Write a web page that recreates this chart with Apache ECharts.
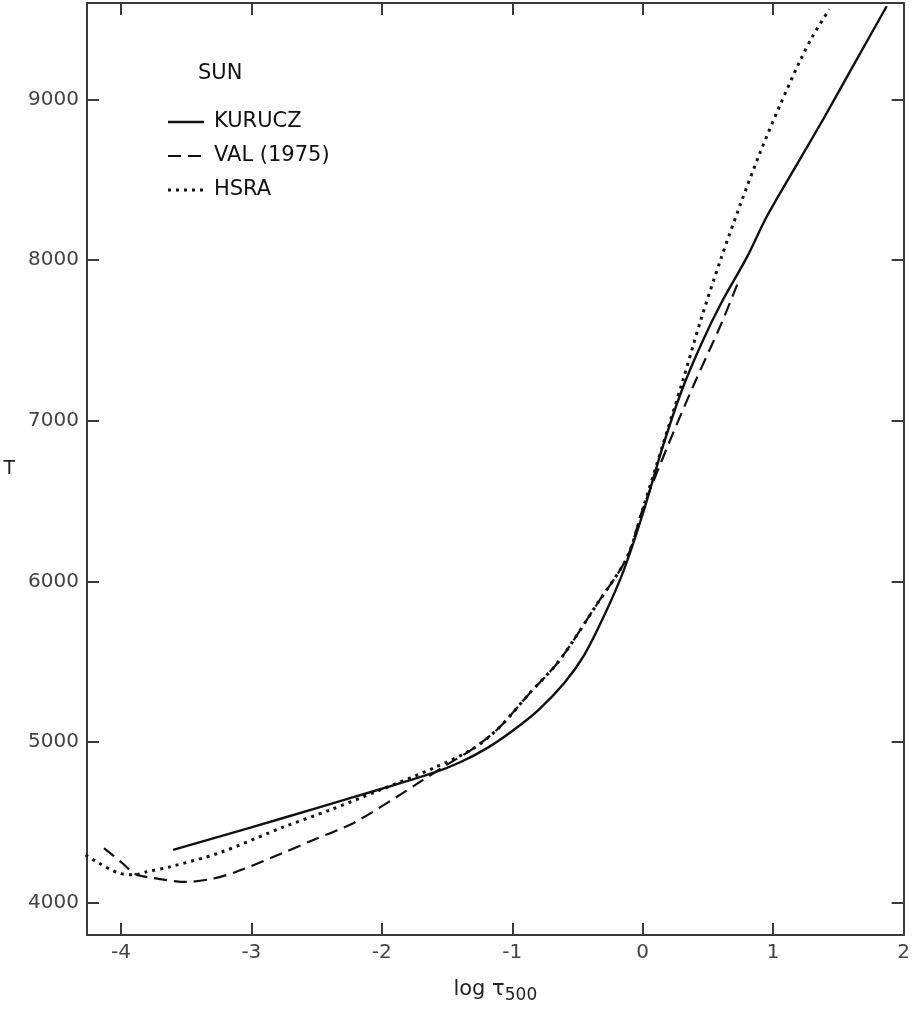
<!DOCTYPE html>
<html>
<head>
<meta charset="utf-8">
<script src="https://cdn.jsdelivr.net/npm/echarts@6/dist/echarts.min.js"></script>
<style>html,body{margin:0;padding:0;background:#fff}#c{width:913px;height:1012px}</style>
</head>
<body>
<div id="c"></div>
<script>
const xTicks = [-4, -3, -2, -1, 0, 1, 2];
const yTicks = [4000, 5000, 6000, 7000, 8000, 9000];

const kuruczX = [-3.6, -3.0, -2.5, -2.0, -1.6, -1.4, -1.2, -1.0, -0.8, -0.6, -0.45, -0.3, -0.15, 0.0, 0.15, 0.3, 0.45, 0.6, 0.8, 0.95, 1.2, 1.4, 1.6, 1.87];
const kuruczT = [4330, 4470, 4590, 4710, 4810, 4875, 4960, 5070, 5200, 5370, 5540, 5780, 6060, 6420, 6830, 7190, 7480, 7730, 8020, 8270, 8620, 8900, 9190, 9580];

const valX = [-4.13, -4.0, -3.89, -3.75, -3.5, -3.3, -3.12, -2.76, -2.53, -2.22, -1.89, -1.69, -1.5, -1.3, -1.1, -0.87, -0.64, -0.35, -0.12, 0.0, 0.2, 0.4, 0.6, 0.74];
const valT = [4341, 4255, 4180, 4155, 4130, 4150, 4192, 4310, 4390, 4496, 4657, 4762, 4860, 4960, 5091, 5302, 5507, 5860, 6150, 6450, 6860, 7240, 7600, 7880];

const hsraX = [-4.27, -4.17, -4.02, -3.89, -3.81, -3.63, -3.25, -2.76, -2.40, -2.02, -1.6, -1.3, -1.1, -0.87, -0.64, -0.35, -0.12, 0.0, 0.15, 0.3, 0.45, 0.6, 0.75, 0.9, 1.05, 1.2, 1.3, 1.43];
const hsraT = [4298, 4248, 4186, 4174, 4192, 4223, 4310, 4470, 4577, 4700, 4840, 4960, 5091, 5302, 5507, 5860, 6150, 6450, 6840, 7230, 7640, 8010, 8350, 8670, 8960, 9230, 9390, 9560];

const legendNames = ['KURUCZ', 'VAL (1975)', 'HSRA'];
const legendTitle = 'SUN';

const zip = (a, b) => a.map((v, i) => [v, b[i]]);

const axisColor = '#3a3a3a';
const inkColor = '#111';
const dashes = [null, [13, 7], [3, 5]];
const widths = [2.4, 2.2, 3];
const labelFont = { fontFamily: 'DejaVu Sans', fontSize: 20, color: '#444' };

const legendGraphics = [{
  type: 'text', left: 198, top: 63,
  style: { text: legendTitle, font: '21px "DejaVu Sans"', fill: inkColor }
}];
legendNames.forEach((n, i) => {
  const y = 122 + i * 34;
  legendGraphics.push({
    type: 'line',
    shape: { x1: 168, y1: y, x2: 204, y2: y },
    style: { stroke: inkColor, lineWidth: widths[i], lineDash: dashes[i] || null }
  });
  legendGraphics.push({
    type: 'text', x: 214, y: y,
    style: { text: n, font: '21px "DejaVu Sans"', fill: inkColor, verticalAlign: 'middle' }
  });
});

const chart = echarts.init(document.getElementById('c'), null, { renderer: 'canvas' });
const plain = v => String(v);
chart.setOption({
  animation: false,
  backgroundColor: '#fff',
  grid: { left: 87, right: 8, top: 3, bottom: 77, containLabel: false },
  graphic: legendGraphics,
  xAxis: [{
    type: 'value', min: -4.26, max: 2.0, position: 'bottom',
    axisLine: { onZero: false, lineStyle: { color: axisColor, width: 2 } },
    axisTick: { inside: true, length: 12, customValues: xTicks, lineStyle: { color: axisColor, width: 2 } },
    axisLabel: Object.assign({ customValues: xTicks, margin: 8, formatter: plain }, labelFont),
    splitLine: { show: false },
    name: '{a|log τ}{b|500}', nameLocation: 'middle', nameGap: 40,
    nameTextStyle: {
      rich: {
        a: { fontFamily: 'DejaVu Sans', fontSize: 21, color: '#222' },
        b: { fontFamily: 'DejaVu Sans', fontSize: 17, color: '#222', padding: [12, 0, 0, 0] }
      }
    }
  }, {
    type: 'value', min: -4.26, max: 2.0, position: 'top',
    axisLine: { onZero: false, lineStyle: { color: axisColor, width: 2 } },
    axisTick: { inside: true, length: 12, customValues: xTicks, lineStyle: { color: axisColor, width: 2 } },
    axisLabel: { show: false, customValues: xTicks },
    splitLine: { show: false }
  }],
  yAxis: [{
    type: 'value', min: 3800, max: 9600, position: 'left',
    axisLine: { show: true, onZero: false, lineStyle: { color: axisColor, width: 2 } },
    axisTick: { show: true, inside: true, length: 12, customValues: yTicks, lineStyle: { color: axisColor, width: 2 } },
    axisLabel: Object.assign({ customValues: yTicks, margin: 8, formatter: plain }, labelFont),
    splitLine: { show: false },
    name: 'T', nameLocation: 'middle', nameGap: 72, nameRotate: 0,
    nameTextStyle: { fontFamily: 'DejaVu Sans', fontSize: 19, color: '#222' }
  }, {
    type: 'value', min: 3800, max: 9600, position: 'right',
    axisLine: { show: true, onZero: false, lineStyle: { color: axisColor, width: 2 } },
    axisTick: { show: true, inside: true, length: 12, customValues: yTicks, lineStyle: { color: axisColor, width: 2 } },
    axisLabel: { show: false, customValues: yTicks },
    splitLine: { show: false }
  }],
  series: legendNames.map((n, i) => ({
    name: n, type: 'line', smooth: 0.3, showSymbol: false, symbol: 'none',
    data: [zip(kuruczX, kuruczT), zip(valX, valT), zip(hsraX, hsraT)][i],
    lineStyle: { color: inkColor, width: widths[i], type: dashes[i] || 'solid' },
    itemStyle: { color: inkColor }
  }))
});
</script>
</body>
</html>
